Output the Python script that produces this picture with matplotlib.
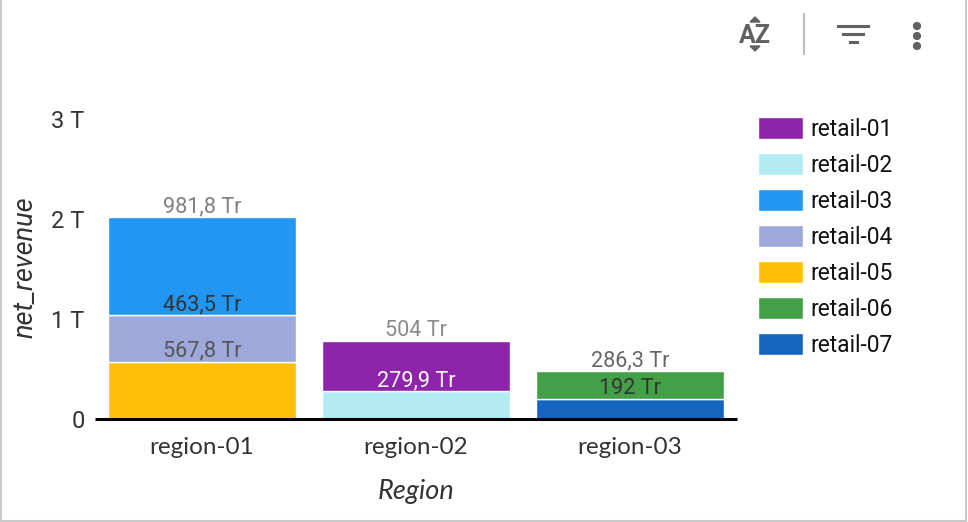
import matplotlib
matplotlib.use('Agg')
import matplotlib.pyplot as plt
import numpy as np
from matplotlib.patches import Circle, Polygon, Rectangle

plt.rcParams['font.family'] = ['Roboto', 'DejaVu Sans']

regions = ['region-01', 'region-02', 'region-03']
retailers = ['retail-01', 'retail-02', 'retail-03', 'retail-04', 'retail-05', 'retail-06', 'retail-07']
colors = ['#8E24AA', '#B2EBF2', '#2196F3', '#9FA8DA', '#FFC107', '#43A047', '#1565C0']

# segment heights (trillions), nan where the retailer has nothing
# region-02 and region-03 are drawn a little shorter than their printed labels say
retail_01 = [np.nan, 500, np.nan]
retail_02 = [np.nan, 275, np.nan]
retail_03 = [981.8, np.nan, np.nan]
retail_04 = [463.5, np.nan, np.nan]
retail_05 = [567.8, np.nan, np.nan]
retail_06 = [np.nan, np.nan, 273]
retail_07 = [np.nan, np.nan, 200]
series = [retail_01, retail_02, retail_03, retail_04, retail_05, retail_06, retail_07]

value_labels = {
    'retail-01': ['', '504 Tr', ''],
    'retail-02': ['', '279,9 Tr', ''],
    'retail-03': ['981,8 Tr', '', ''],
    'retail-04': ['463,5 Tr', '', ''],
    'retail-05': ['567,8 Tr', '', ''],
    'retail-06': ['', '', '286,3 Tr'],
    'retail-07': ['', '', '192 Tr'],
}
label_colors = {
    'retail-01': '#8a8a8a',
    'retail-02': '#ffffff',
    'retail-03': '#808080',
    'retail-04': '#333333',
    'retail-05': '#555555',
    'retail-06': '#666666',
    'retail-07': '#333333',
}

W, H = 968, 522
fig = plt.figure(figsize=(W / 100, H / 100), dpi=100, facecolor='white')

# plot area in pixels: x 95-737, y 118.5-418.5
ax = fig.add_axes([95 / W, 1 - 418.5 / H, 642 / W, 300 / H])

bottom = np.zeros(len(regions))
handles = {}
# stack goes from the last retailer up to the first one
for name, vals, col in reversed(list(zip(retailers, series, colors))):
    vals = np.array(vals, dtype=float)
    bars = ax.bar(np.arange(len(regions)), vals, bottom=bottom, width=0.878,
                  color=col, edgecolor='white', linewidth=1, label=name)
    handles[name] = bars
    bottom = bottom + np.nan_to_num(vals)
    for i, txt in enumerate(value_labels[name]):
        if txt:
            ax.annotate(txt, xy=(i, bottom[i]), xytext=(0, 0), textcoords='offset points',
                        ha='center', va='bottom', fontsize=15.6, color=label_colors[name],
                        annotation_clip=False)

ax.set_xlim(-0.5, 2.5)
ax.set_ylim(0, 3000)
ax.set_xticks(range(3))
ax.set_xticklabels(regions, family=['Lato', 'DejaVu Sans'], fontsize=17.5, color='#333333')
ax.set_yticks([0, 1000, 2000, 3000])
ax.set_yticklabels(['0', '1 T', '2 T', '3 T'], fontsize=17, color='#333333')
ax.tick_params(axis='x', length=0, pad=13.5)
ax.tick_params(axis='y', length=0, pad=7.5)
for side in ['top', 'left', 'right']:
    ax.spines[side].set_visible(False)
ax.spines['bottom'].set_linewidth(2.2)
ax.spines['bottom'].set_color('black')
ax.spines['bottom'].set_capstyle('butt')
ax.set_xlabel('Region', style='italic', family=['Lato', 'DejaVu Sans'],
              fontsize=19.5, color='#333333', labelpad=15)
ax.set_ylabel('net_revenue', style='italic', fontsize=19.5, color='#333333', labelpad=9, y=0.505)

fig.legend([handles[n] for n in retailers], retailers, loc='upper left',
           bbox_to_anchor=(751 / W, 1 - 110 / H), frameon=False, fontsize=16.4,
           handlelength=1.98, handleheight=1.15, labelspacing=0.525, handletextpad=0.33,
           borderpad=0.3, borderaxespad=0, labelcolor='#111111')

# card border and toolbar, drawn in pixel coordinates
chrome = fig.add_axes([0, 0, 1, 1], zorder=5)
chrome.set_xlim(0, W)
chrome.set_ylim(H, 0)
chrome.axis('off')
chrome.add_patch(Rectangle((0.5, -3), W - 3, H + 1.5, fill=False, edgecolor='#c9c9c9', linewidth=1.5))

icon = '#616161'
chrome.text(755, 36, 'AZ', ha='center', va='center', fontsize=18, fontweight='bold', color=icon)
chrome.add_patch(Polygon([[750, 22], [760, 22], [755, 17]], color=icon))
chrome.add_patch(Polygon([[750, 46], [760, 46], [755, 51]], color=icon))
chrome.plot([804, 804], [14, 54], color='#bdbdbd', lw=1.5)
chrome.plot([838, 868], [26, 26], color=icon, lw=2.2)
chrome.plot([843, 863], [34, 34], color=icon, lw=2.2)
chrome.plot([850, 857], [42, 42], color=icon, lw=2.2)
for y in [26, 36, 46]:
    chrome.add_patch(Circle((917, y), 3.4, color=icon))

fig.savefig('out.png', dpi=100)
